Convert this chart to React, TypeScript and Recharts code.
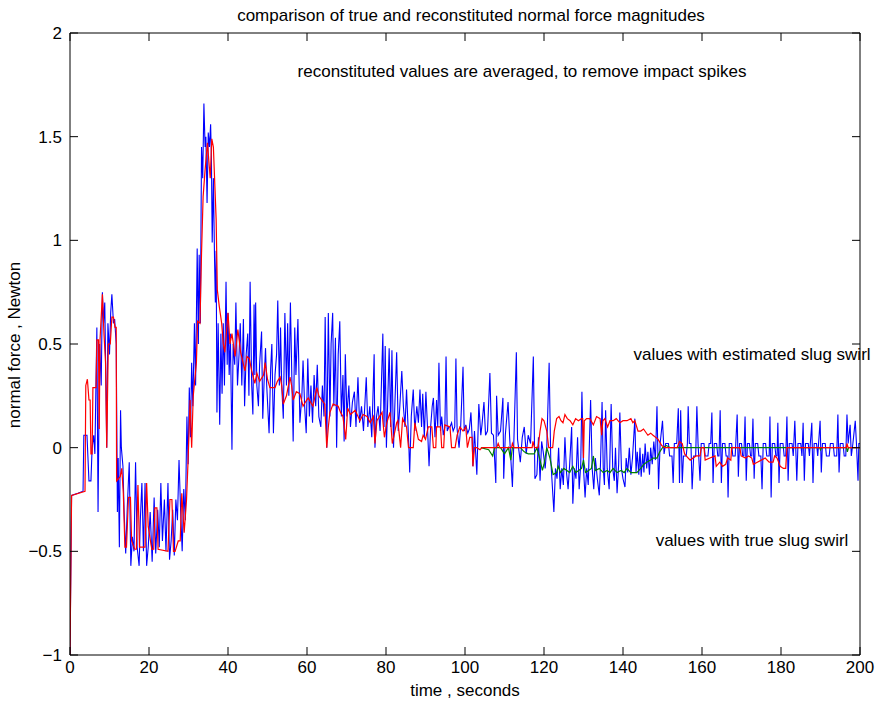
import { LineChart, Line, XAxis, YAxis } from 'recharts'

// blue : measured normal force (with impact spikes)  [time s, force N]
const measuredForce: [number, number][] = [
  [0, -1], [0.4, -0.23], [2, -0.22], [3.3, -0.21], [3.5, 0.06], [4.3, 0.06], [4.8, -0.16], [5.3, -0.16],
  [5.6, 0.0], [6.0, 0.06], [6.3, -0.03], [6.8, 0.58], [7.1, -0.31], [7.5, 0.5], [7.9, 0.3], [8.2, 0.75],
  [8.5, 0.6], [8.8, 0.7], [9.1, 0.3], [9.3, 0.0], [9.6, 0.6], [10.0, 0.45], [10.3, 0.65], [10.6, 0.74],
  [11.0, 0.6], [11.3, 0.62], [11.7, 0.5], [12.0, -0.31], [12.2, -0.05], [12.5, -0.48], [12.8, 0.18], [13.0, 0.0],
  [13.4, -0.09], [13.7, -0.31], [14.1, -0.51], [14.5, -0.29], [15.0, -0.07], [15.4, -0.57], [15.8, -0.43], [16.2, -0.5],
  [16.6, -0.07], [17.0, -0.48], [17.5, -0.57], [17.8, -0.35], [18.2, -0.17], [18.6, -0.5], [19.0, -0.17], [19.4, -0.57],
  [19.8, -0.48], [20.3, -0.31], [20.8, -0.55], [21.3, -0.24], [21.7, -0.51], [22.2, -0.3], [22.6, -0.48], [23.0, -0.17],
  [23.4, -0.45], [23.9, -0.25], [24.3, -0.5], [24.8, -0.17], [25.2, -0.54], [25.6, -0.45], [26.0, -0.3], [26.4, -0.52],
  [26.8, -0.25], [27.2, -0.35], [27.6, -0.06], [28.0, -0.3], [28.4, -0.5], [28.8, -0.2], [29.2, -0.35], [29.6, 0.15],
  [29.9, -0.08], [30.2, 0.29], [30.5, 0.05], [30.8, 0.41], [31.1, 0.2], [31.5, 0.6], [31.8, 0.3], [32.2, 0.96],
  [32.5, 0.5], [32.7, 0.93], [33.0, 0.6], [33.3, 1.45], [33.6, 1.3], [33.9, 1.66], [34.2, 1.45], [34.4, 1.5],
  [34.7, 1.18], [35.0, 1.52], [35.3, 1.45], [35.6, 1.56], [35.8, 1.4], [36.0, 0.99], [36.3, 1.3], [36.6, 0.9],
  [36.8, 0.7], [37.0, 0.95], [37.2, 0.17], [37.5, 0.6], [37.9, 0.11], [38.2, 0.55], [38.5, 0.26], [38.8, 0.6],
  [39.1, 0.3], [39.5, 0.8], [39.8, 0.4], [40.0, 0.65], [40.3, 0.35], [40.6, 0.55], [41.0, -0.01], [41.3, 0.5],
  [41.7, 0.4], [42.0, 0.7], [42.4, 0.3], [42.8, 0.45], [43.1, 0.6], [43.5, 0.3], [43.9, 0.62], [44.2, 0.2],
  [44.6, 0.45], [45.0, 0.55], [45.3, 0.25], [45.6, 0.8], [46.0, 0.3], [46.3, 0.16], [46.6, 0.69], [46.8, 0.35],
  [47.0, 0.7], [47.3, 0.3], [47.7, 0.2], [48.0, 0.4], [48.5, 0.56], [48.8, 0.14], [49.2, 0.35], [49.5, 0.48],
  [49.8, 0.3], [50.4, 0.07], [50.8, 0.38], [51.1, 0.5], [51.5, 0.07], [51.9, 0.35], [52.3, 0.45], [52.6, 0.71],
  [53.0, 0.3], [53.3, 0.58], [53.6, 0.3], [54.0, 0.14], [54.4, 0.65], [54.8, 0.3], [55.1, 0.6], [55.4, 0.25],
  [55.8, 0.7], [56.2, 0.3], [56.5, 0.03], [56.9, 0.58], [57.2, 0.35], [57.7, 0.62], [58.2, 0.12], [58.7, 0.25],
  [59.0, 0.42], [59.4, 0.2], [59.8, 0.07], [60.2, 0.43], [60.6, 0.15], [61.0, 0.3], [61.4, 0.12], [61.8, 0.35],
  [62.2, 0.2], [62.6, 0.4], [63.0, 0.15], [63.5, 0.1], [63.9, 0.3], [64.3, 0.15], [64.6, 0.63], [65.0, 0.0],
  [65.4, 0.65], [65.8, 0.15], [66.1, 0.5], [66.5, 0.65], [66.8, 0.2], [67.2, 0.53], [67.5, 0.0], [67.9, 0.45],
  [68.3, 0.61], [68.7, 0.15], [69.1, 0.35], [69.4, 0.03], [69.7, 0.45], [70.1, 0.15], [70.6, 0.3], [71.0, 0.1],
  [71.5, 0.22], [72.0, 0.27], [72.4, 0.1], [72.9, 0.34], [73.3, 0.12], [73.8, 0.2], [74.3, 0.08], [75.0, 0.34],
  [75.4, 0.1], [75.9, 0.2], [76.4, 0.05], [77.0, 0.45], [77.2, 0.0], [77.6, 0.15], [78.0, 0.2], [78.5, 0.08],
  [79.2, 0.55], [79.5, 0.1], [79.8, 0.49], [80.1, 0.0], [80.4, 0.2], [80.8, 0.48], [81.2, 0.1], [81.5, 0.47],
  [81.9, 0.0], [82.3, 0.24], [82.7, 0.46], [83.1, 0.08], [83.5, 0.2], [84.0, 0.37], [84.4, 0.2], [84.8, 0.1],
  [85.2, 0.28], [85.8, 0.0], [86.0, -0.12], [86.4, 0.15], [86.9, 0.28], [87.3, 0.08], [87.8, 0.2], [88.2, 0.12],
  [88.6, 0.28], [89.0, 0.1], [89.3, 0.26], [89.7, 0.05], [90.1, 0.27], [90.5, 0.1], [90.9, -0.09], [91.3, 0.1],
  [91.7, 0.2], [92.0, 0.24], [92.4, 0.05], [92.8, 0.23], [93.1, 0.1], [93.4, 0.41], [93.8, 0.08], [94.1, 0.15],
  [94.5, 0.06], [94.9, 0.1], [95.2, 0.44], [95.5, 0.08], [95.9, 0.1], [96.2, 0.1], [96.6, 0.12], [97.0, 0.08],
  [97.4, 0.1], [97.7, 0.43], [98.0, 0.09], [98.5, 0.0], [98.9, 0.1], [99.5, 0.39], [99.8, 0.08], [100.2, 0.11],
  [100.7, 0.07], [101.1, 0.09], [101.5, 0.17], [101.8, 0.05], [102.0, -0.09], [102.4, 0.08], [103.0, -0.13], [103.5, 0.21],
  [104.0, 0.06], [104.3, 0.11], [104.8, 0.22], [105.2, 0.06], [105.7, 0.08], [106.3, 0.36], [106.7, 0.07], [107.2, 0.06],
  [107.8, -0.17], [108.0, 0.25], [108.4, 0.06], [109.0, 0.08], [109.6, 0.24], [109.8, -0.15], [110.2, 0.06], [110.9, 0.22],
  [111.3, 0.05], [112.0, -0.19], [112.4, 0.05], [113.0, 0.46], [113.3, 0.04], [114.0, -0.07], [114.5, 0.05], [115.0, 0.1],
  [115.5, -0.03], [116.0, 0.06], [116.6, 0.02], [117.3, 0.44], [117.7, -0.15], [118.2, -0.13], [118.6, 0.05], [119.0, -0.16],
  [119.4, 0.03], [119.8, -0.02], [120.3, -0.1], [120.7, 0.0], [121.3, 0.41], [121.7, -0.05], [122.0, -0.15], [122.5, -0.31],
  [122.9, -0.1], [123.3, -0.15], [123.7, 0.0], [124.1, -0.2], [124.5, -0.1], [124.9, -0.18], [125.3, 0.05], [125.7, -0.12],
  [126.1, -0.2], [126.5, -0.08], [127.0, 0.1], [127.3, -0.27], [127.7, -0.1], [128.1, -0.15], [128.5, 0.05], [128.9, -0.2],
  [129.3, -0.08], [129.6, 0.27], [130.0, -0.1], [130.4, -0.24], [130.8, -0.1], [131.2, -0.18], [131.8, 0.23], [132.2, -0.1],
  [132.6, -0.2], [133.0, -0.05], [133.5, -0.15], [134.0, -0.23], [134.3, -0.08], [134.7, 0.22], [135.0, -0.1], [135.3, -0.18],
  [135.6, 0.18], [136.0, -0.1], [136.5, -0.2], [137.0, 0.21], [137.4, -0.1], [137.8, -0.16], [138.1, 0.0], [138.5, -0.22],
  [138.9, -0.08], [139.2, 0.17], [139.6, -0.1], [140.0, -0.15], [140.5, -0.19], [140.8, -0.05], [141.2, -0.12], [141.6, 0.0],
  [142.0, -0.13], [142.4, -0.05], [143.0, 0.14], [143.3, -0.12], [143.6, -0.02], [144.0, -0.13], [144.3, 0.0], [144.6, -0.14],
  [145.0, -0.03], [145.3, -0.12], [145.6, 0.02], [146.0, -0.1], [146.3, -0.02], [146.7, -0.13], [147.0, 0.0], [147.4, -0.08],
  [147.8, 0.03], [148.2, -0.06], [148.6, 0.2], [149.0, -0.2], [149.4, 0.02], [150.0, 0.13], [150.4, -0.03], [150.8, 0.02],
  [151.5, 0.02], [151.8, -0.04], [152.4, -0.04], [152.7, -0.17], [153.0, 0.02], [153.6, 0.02], [154.0, 0.19], [154.3, -0.17],
  [154.6, 0.18], [155.0, -0.17], [155.3, -0.04], [156.0, -0.04], [156.3, 0.02], [156.5, 0.2], [156.8, 0.02], [157.2, 0.02],
  [157.5, -0.2], [157.9, -0.04], [158.4, -0.04], [158.7, 0.2], [159.0, 0.02], [159.5, -0.16], [159.8, 0.02], [160.5, 0.02],
  [160.8, -0.04], [161.5, -0.04], [161.8, 0.02], [162.2, 0.02], [162.5, 0.17], [162.8, -0.17], [163.1, 0.02], [163.7, 0.02],
  [164.0, -0.04], [164.3, -0.04], [164.6, 0.18], [164.9, -0.17], [165.2, 0.02], [165.8, 0.02], [166.1, -0.04], [166.4, -0.04],
  [166.6, -0.24], [166.9, 0.02], [167.5, 0.02], [167.8, -0.04], [168.4, -0.04], [168.9, 0.16], [169.2, -0.14], [169.5, 0.02],
  [170.0, 0.02], [170.3, -0.04], [170.6, -0.04], [170.9, 0.15], [171.2, -0.16], [171.5, 0.02], [172.0, 0.02], [172.3, -0.04],
  [172.6, -0.04], [172.9, 0.14], [173.2, -0.15], [173.5, 0.02], [174.1, 0.02], [174.4, -0.04], [174.9, -0.04], [175.2, -0.2],
  [175.5, 0.02], [176.1, 0.02], [176.4, -0.04], [177.0, -0.04], [177.2, 0.15], [177.5, -0.24], [177.8, 0.02], [178.4, 0.02],
  [178.7, -0.04], [179.0, -0.04], [179.2, 0.12], [179.5, -0.17], [179.8, 0.02], [180.5, 0.02], [180.8, -0.04], [181.2, -0.04],
  [181.5, 0.15], [181.8, -0.16], [182.1, 0.02], [182.8, 0.02], [183.1, -0.04], [183.5, 0.13], [183.8, -0.04], [184.0, -0.16],
  [184.3, 0.02], [185.0, 0.02], [185.3, -0.04], [185.6, 0.12], [185.9, -0.16], [186.2, 0.02], [186.9, 0.02], [187.2, -0.04],
  [187.8, 0.12], [188.1, -0.17], [188.4, 0.02], [189.0, 0.02], [189.3, -0.04], [189.9, 0.13], [190.2, -0.12], [190.5, 0.02],
  [191.2, 0.02], [191.5, -0.04], [192.2, -0.04], [192.5, 0.02], [193.2, 0.02], [193.5, -0.04], [194.1, -0.04], [194.4, 0.16],
  [194.7, -0.12], [195.0, 0.02], [195.7, 0.02], [196.0, -0.04], [196.4, -0.04], [196.7, 0.16], [197.0, 0.02], [197.5, 0.11],
  [197.8, -0.04], [198.2, 0.02], [198.8, 0.13], [199.1, 0.02], [199.5, -0.16], [199.7, 0.02], [200, 0.02],
]

// red : reconstituted values with estimated slug swirl (averaged)
const estimatedSwirl: [number, number][] = [
  [0, -1], [0.4, -0.23], [3.8, -0.21], [4.0, 0.3], [4.4, 0.33], [4.8, 0.23], [5.1, 0.23], [5.3, -0.03],
  [5.6, -0.03], [5.8, 0.29], [6.6, 0.29], [6.8, 0.52], [7.2, 0.52], [7.4, 0.09], [7.6, 0.52], [8.2, 0.74],
  [8.6, 0.55], [9.0, 0.41], [9.3, 0.0], [9.7, 0.5], [10.2, 0.5], [10.6, 0.63], [11.0, 0.63], [11.4, 0.58],
  [11.7, 0.58], [11.8, -0.16], [12.7, -0.14], [13.1, -0.1], [13.5, -0.22], [13.9, -0.48], [14.3, -0.48], [14.8, -0.24],
  [15.3, -0.24], [15.6, -0.45], [16.4, -0.49], [16.8, -0.49], [17.2, -0.18], [17.6, -0.48], [19.0, -0.48], [19.4, -0.17],
  [19.8, -0.38], [20.7, -0.49], [21.2, -0.49], [21.5, -0.29], [22.0, -0.29], [22.3, -0.49], [24.8, -0.5], [25.3, -0.25],
  [25.8, -0.25], [26.2, -0.5], [26.6, -0.5], [27.4, -0.45], [27.9, -0.45], [28.3, -0.22], [28.9, -0.41], [29.5, -0.25],
  [29.9, -0.06], [30.4, 0.23], [30.8, 0.0], [31.2, 0.25], [32.0, 0.41], [32.3, 0.61], [32.9, 0.6], [33.3, 0.94],
  [33.7, 1.21], [34.2, 1.34], [34.8, 1.47], [35.2, 1.37], [35.5, 1.3], [35.9, 1.49], [36.3, 1.45], [36.8, 1.2],
  [37.0, 1.1], [37.3, 0.76], [37.8, 0.68], [38.4, 0.6], [38.8, 0.5], [39.2, 0.46], [40.0, 0.65], [40.5, 0.5],
  [41.0, 0.55], [41.8, 0.44], [42.5, 0.57], [43.2, 0.46], [44.3, 0.37], [44.8, 0.44], [45.4, 0.43], [46.0, 0.37],
  [46.8, 0.31], [47.3, 0.36], [48.0, 0.32], [49.0, 0.35], [49.4, 0.41], [50.0, 0.33], [50.6, 0.29], [51.9, 0.29],
  [52.5, 0.32], [53.2, 0.34], [53.6, 0.3], [54.0, 0.21], [54.8, 0.25], [55.7, 0.34], [56.1, 0.3], [56.5, 0.23],
  [57.3, 0.27], [58.2, 0.26], [59.0, 0.2], [59.6, 0.22], [60.3, 0.24], [61.5, 0.2], [62.5, 0.29], [63.0, 0.25],
  [63.7, 0.23], [64.5, 0.21], [65.0, 0.0], [65.4, 0.1], [65.8, 0.17], [66.6, 0.21], [67.9, 0.2], [68.5, 0.17],
  [69.1, 0.15], [69.8, 0.04], [70.3, 0.19], [71.0, 0.16], [72.2, 0.18], [73.4, 0.13], [74.2, 0.16], [75.2, 0.15],
  [76.0, 0.12], [76.8, 0.15], [77.2, 0.02], [77.7, 0.13], [79.0, 0.17], [79.6, 0.05], [80.2, 0.12], [81.0, 0.17],
  [81.6, 0.02], [82.7, 0.12], [83.0, 0.13], [83.7, 0.0], [84.2, 0.14], [85.2, 0.1], [85.7, 0.0], [86.9, 0.0],
  [87.3, 0.12], [88.2, 0.04], [89.0, 0.03], [89.4, 0.06], [90.0, 0.04], [90.7, 0.1], [91.6, 0.1], [92.0, 0.0],
  [92.6, 0.0], [92.8, 0.1], [93.8, 0.1], [94.1, 0.0], [94.6, 0.0], [94.9, 0.11], [96.2, 0.1], [96.6, 0.0],
  [97.5, 0.0], [98.0, 0.06], [98.7, 0.1], [99.5, 0.08], [100.2, 0.1], [100.6, 0.0], [101.2, 0.05], [101.8, 0.05],
  [102.0, -0.09], [102.4, 0.0], [103.0, 0.0], [103.8, -0.01], [104.3, 0.0], [108.0, 0.0], [108.4, 0.02], [108.8, 0.0],
  [111.8, 0.0], [112.0, 0.02], [112.4, 0.0], [117.0, 0.0], [117.2, 0.03], [117.6, 0.0], [118.5, 0.0], [119.0, 0.08],
  [119.5, 0.14], [120.0, 0.13], [120.7, 0.08], [121.2, 0.0], [122.2, 0.0], [122.6, 0.08], [123.2, 0.14], [123.8, 0.15],
  [124.3, 0.13], [124.8, 0.12], [125.3, 0.16], [125.9, 0.14], [126.6, 0.13], [127.3, 0.11], [128.0, 0.14], [128.7, 0.13],
  [129.5, 0.14], [129.8, 0.14], [130.0, -0.05], [130.2, 0.13], [130.8, 0.14], [131.6, 0.14], [132.5, 0.11], [133.3, 0.15],
  [134.2, 0.14], [134.6, 0.06], [134.9, 0.13], [135.4, 0.14], [136.1, 0.1], [136.7, 0.13], [137.5, 0.13], [138.3, 0.14],
  [139.2, 0.12], [140.0, 0.13], [141.0, 0.13], [142.0, 0.14], [142.5, 0.12], [143.0, 0.13], [143.8, 0.08], [144.5, 0.08],
  [145.2, 0.09], [146.3, 0.06], [147.0, 0.07], [147.6, 0.06], [148.9, 0.04], [149.8, 0.01], [150.6, 0.0], [153.7, 0.0],
  [154.3, 0.03], [155.0, 0.02], [155.6, -0.03], [156.5, -0.05], [157.0, -0.06], [158.5, -0.04], [159.5, -0.04], [159.8, 0.0],
  [160.5, 0.0], [160.8, -0.06], [162.0, -0.05], [163.3, -0.04], [163.6, -0.09], [164.5, -0.07], [165.2, -0.09], [166.0, -0.08],
  [166.5, -0.05], [167.3, -0.06], [167.5, 0.0], [169.6, 0.0], [169.9, -0.04], [171.0, -0.05], [171.8, -0.04], [172.6, -0.05],
  [173.0, -0.08], [174.0, -0.07], [175.0, -0.06], [176.0, -0.05], [177.0, -0.07], [178.0, -0.07], [178.4, -0.04], [179.0, -0.05],
  [179.8, -0.09], [180.6, -0.1], [181.2, -0.1], [181.5, 0.0], [196.5, 0.0], [196.7, 0.02], [197.0, 0.0], [200, 0.0],
]

// green : reconstituted values with true slug swirl
const trueSwirl: [number, number][] = [
  [104.0, 0.0], [106.0, -0.01], [107.0, -0.04], [107.5, 0.0], [109.0, 0.0], [110.0, -0.03], [111.0, 0.0], [111.6, -0.06],
  [112.0, 0.0], [114.0, 0.0], [115.0, -0.02], [116.0, -0.03], [117.5, -0.03], [118.2, 0.0], [119.0, -0.06], [119.6, -0.11],
  [120.0, -0.08], [120.7, 0.0], [121.5, -0.05], [122.3, -0.13], [123.2, -0.12], [123.6, -0.09], [124.2, -0.12], [125.0, -0.1],
  [125.8, -0.11], [126.5, -0.12], [127.3, -0.09], [128.0, -0.12], [128.8, -0.11], [129.5, -0.1], [130.0, -0.06], [130.5, -0.12],
  [131.3, -0.11], [132.0, -0.1], [132.5, -0.04], [133.0, -0.11], [134.0, -0.1], [135.0, -0.12], [136.0, -0.11], [136.7, -0.12],
  [137.5, -0.1], [138.5, -0.12], [139.5, -0.11], [140.3, -0.12], [141.0, -0.1], [142.0, -0.12], [143.5, -0.12], [144.5, -0.1],
  [145.3, -0.08], [146.0, -0.07], [147.0, -0.06], [147.6, -0.05], [148.6, -0.05], [149.3, -0.02], [150.0, 0.0], [151.0, 0.01],
  [152.0, 0.0], [189.8, 0.0], [190.0, -0.01], [190.3, 0.0], [196.6, 0.0], [196.8, -0.02], [197.1, 0.0], [200, 0.0],
]

const timeTicks = [0, 20, 40, 60, 80, 100, 120, 140, 160, 180, 200]
const forceTicks = [-1, -0.5, 0, 0.5, 1, 1.5, 2]

const FONT = '"Liberation Sans", Arial, Helvetica, sans-serif'
const TICK = 8

const toRows = (pts: [number, number][]) => pts.map(([t, v]) => ({ t, v }))

const fmt = (v: number) => String(v).replace('-', '\u2212')

const BottomTick = ({ x, y, payload }: any) => (
  <g>
    <line x1={x} x2={x} y1={y} y2={y - TICK} stroke="#000" />
    <text x={x} y={y + 18} textAnchor="middle" fontSize={17} fontFamily={FONT} fill="#000">
      {payload.value}
    </text>
  </g>
)

const LeftTick = ({ x, y, payload }: any) => (
  <g>
    <line x1={x} x2={x + TICK} y1={y} y2={y} stroke="#000" />
    <text x={x - 8} y={y + 6} textAnchor="end" fontSize={17} fontFamily={FONT} fill="#000">
      {fmt(payload.value)}
    </text>
  </g>
)

const TopTick = ({ x, y }: any) => <line x1={x} x2={x} y1={y} y2={y + TICK} stroke="#000" />
const RightTick = ({ x, y }: any) => <line x1={x} x2={x - TICK} y1={y} y2={y} stroke="#000" />

export default function App() {
  const W = 879
  const H = 704
  return (
    <div style={{ position: 'absolute', left: 0, top: 0, width: W, height: H, background: '#fff' }}>
      <LineChart width={W} height={H} margin={{ top: 32, right: 18, left: 0, bottom: 0 }}>
        <XAxis
          xAxisId="b"
          dataKey="t"
          type="number"
          domain={[0, 200]}
          ticks={timeTicks}
          allowDataOverflow
          height={49}
          tickSize={0}
          tickMargin={0}
          tick={<BottomTick />}
          axisLine={{ stroke: '#000' }}
        />
        <XAxis
          xAxisId="top"
          orientation="top"
          dataKey="t"
          type="number"
          domain={[0, 200]}
          ticks={timeTicks}
          allowDataOverflow
          height={1}
          tickSize={0}
          tickMargin={0}
          tick={<TopTick />}
          axisLine={{ stroke: '#000' }}
        />
        <YAxis
          yAxisId="l"
          type="number"
          domain={[-1, 2]}
          ticks={forceTicks}
          allowDataOverflow
          width={70}
          tickSize={0}
          tickMargin={0}
          tick={<LeftTick />}
          axisLine={{ stroke: '#000' }}
        />
        <YAxis
          yAxisId="r"
          orientation="right"
          type="number"
          domain={[-1, 2]}
          ticks={forceTicks}
          allowDataOverflow
          width={1}
          tickSize={0}
          tickMargin={0}
          tick={<RightTick />}
          axisLine={{ stroke: '#000' }}
        />

        <Line xAxisId="b" yAxisId="l" data={toRows(measuredForce)} dataKey="v" type="linear"
          stroke="#0000ff" strokeWidth={1.1} dot={false} activeDot={false} isAnimationActive={false} />
        <Line xAxisId="b" yAxisId="l" data={toRows(trueSwirl)} dataKey="v" type="linear"
          stroke="#008000" strokeWidth={1.2} dot={false} activeDot={false} isAnimationActive={false} />
        {/* red sits on the mirrored top/right axes (same domains) so the box frame gets drawn */}
        <Line xAxisId="top" yAxisId="r" data={toRows(estimatedSwirl)} dataKey="v" type="linear"
          stroke="#ff0000" strokeWidth={1.2} dot={false} activeDot={false} isAnimationActive={false} />

        <text x={471} y={21} textAnchor="middle" fontSize={17} fontFamily={FONT} fill="#000">
          comparison of true and reconstituted normal force magnitudes
        </text>
        <text x={522} y={77} textAnchor="middle" fontSize={17} fontFamily={FONT} fill="#000">
          reconstituted values are averaged, to remove impact spikes
        </text>
        <text x={752} y={360} textAnchor="middle" fontSize={17} fontFamily={FONT} fill="#000">
          values with estimated slug swirl
        </text>
        <text x={752} y={546} textAnchor="middle" fontSize={17} fontFamily={FONT} fill="#000">
          values with true slug swirl
        </text>
        <text x={465} y={696} textAnchor="middle" fontSize={17} fontFamily={FONT} fill="#000">
          time , seconds
        </text>
        <text x={20} y={345} textAnchor="middle" fontSize={17} fontFamily={FONT} fill="#000"
          transform="rotate(-90 20 345)">
          normal force , Newton
        </text>
      </LineChart>
    </div>
  )
}
